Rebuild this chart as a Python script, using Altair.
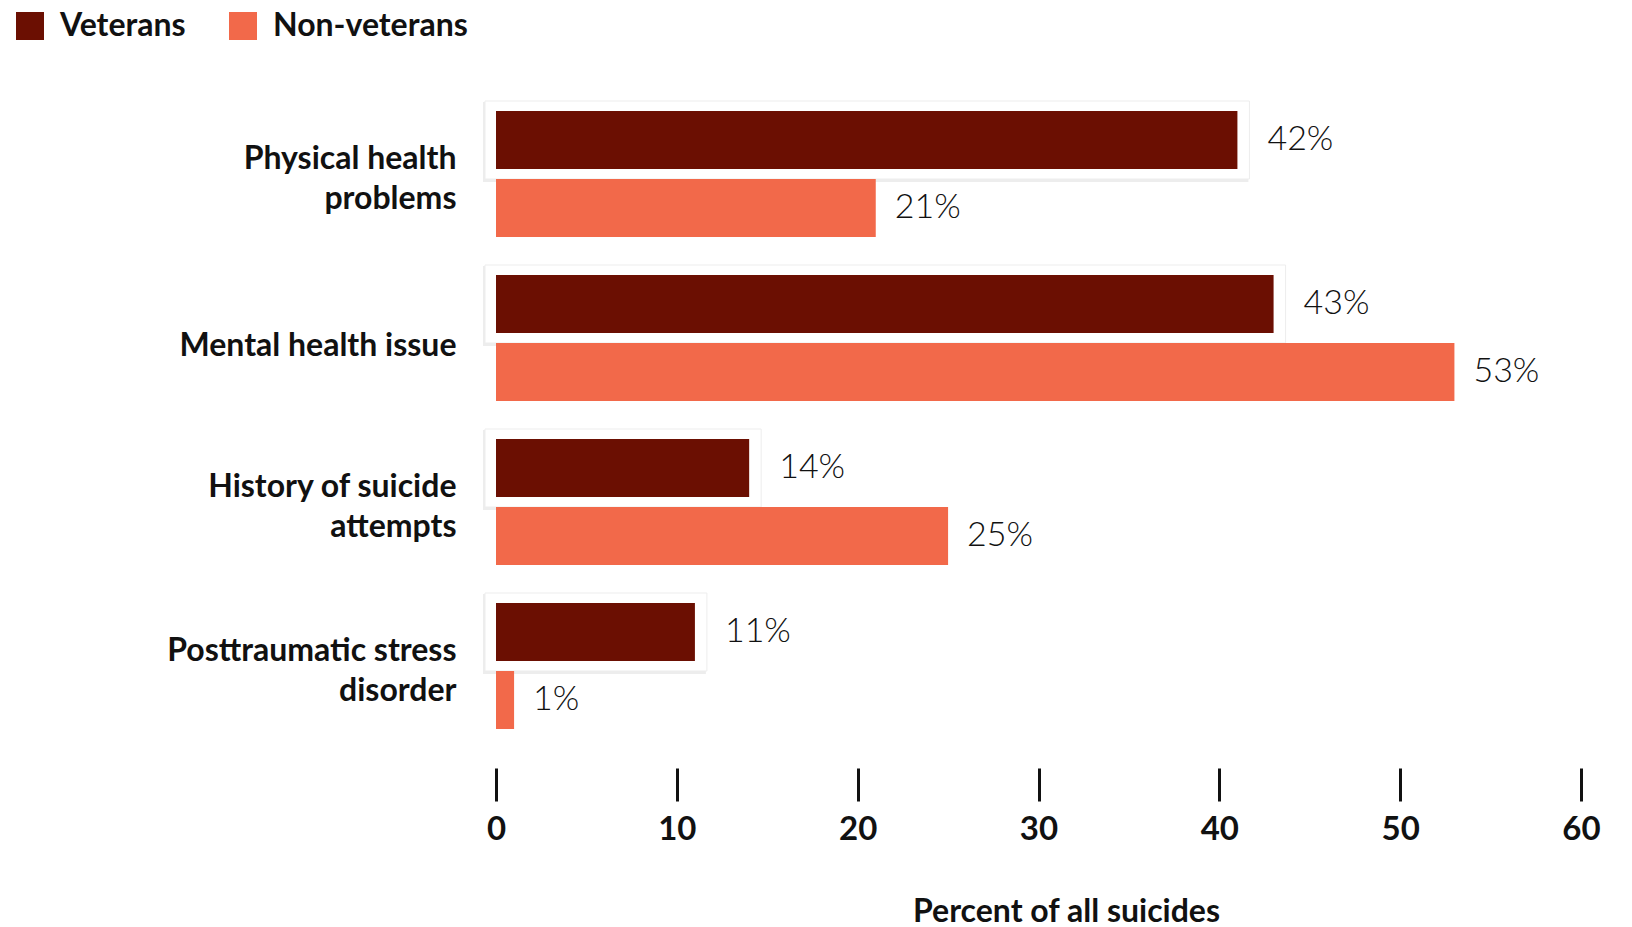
import json
import altair as alt
import pandas as pd

categories = ["Physical health problems", "Mental health issue",
              "History of suicide attempts", "Posttraumatic stress disorder"]
label_lines = [["Physical health", "problems"], ["Mental health issue"],
               ["History of suicide", "attempts"], ["Posttraumatic stress", "disorder"]]
veterans = [41, 43, 14, 11]            # bar lengths as drawn
veteran_labels = ["42%", "43%", "14%", "11%"]
non_veterans = [21, 53, 25, 1]
non_veteran_labels = ["21%", "53%", "25%", "1%"]
groups = ["Veterans", "Non-veterans"]
colors = ["#6B0F02", "#F2694A"]
x_ticks = [0, 10, 20, 30, 40, 50, 60]
x_title = "Percent of all suicides"

rows = []
for c, v, vl, n, nl in zip(categories, veterans, veteran_labels, non_veterans, non_veteran_labels):
    rows.append({"cat": c, "group": groups[0], "value": v, "label": vl})
    rows.append({"cat": c, "group": groups[1], "value": n, "label": nl})
df = pd.DataFrame(rows)

expr = "datum.label"
for c, lines in reversed(list(zip(categories, label_lines))):
    expr = f"datum.label == {json.dumps(c)} ? {json.dumps(lines)} : ({expr})"

FONT = "Lato"

x_enc = alt.X(
    "value:Q",
    scale=alt.Scale(domain=[0, 60], nice=False, zero=True),
    axis=alt.Axis(values=x_ticks, grid=False, domain=False, ticks=True,
                  tickSize=33, tickWidth=3, tickColor="#111", offset=20,
                  labelFont=FONT, labelFontSize=33, labelFontWeight="bold",
                  labelColor="#111", labelPadding=12, labelBaseline="top",
                  labelFlush=False,
                  title=x_title, titleFont=FONT, titleFontSize=32,
                  titleFontWeight="bold", titleColor="#111", titlePadding=50,
                  titleX=570, titleAlign="center"),
)
y_enc = alt.Y(
    "cat:N", sort=categories,
    scale=alt.Scale(paddingInner=0, paddingOuter=0),
    axis=alt.Axis(title=None, domain=False, ticks=False, grid=False,
                  labelExpr=expr, labelFont=FONT, labelFontSize=32,
                  labelFontWeight="bold", labelColor="#111", labelAlign="right",
                  labelPadding=40, labelLineHeight=40, labelLimit=400,
                  labelOffset={"condition": {"test": f"datum.value == {json.dumps(categories[1])}",
                                             "value": 8},
                               "value": -15}),
)
color_enc = alt.Color(
    "group:N",
    scale=alt.Scale(domain=groups, range=colors),
    legend=alt.Legend(title=None, orient="none", legendX=-482, legendY=-82,
                      direction="horizontal", symbolType="square",
                      symbolSize=784, symbolStrokeWidth=0, symbolOpacity=1,
                      labelFont=FONT, labelFontSize=32, labelFontWeight="bold",
                      labelColor="#111", labelOffset=14, columnPadding=41,
                      labelLimit=400, padding=0),
)

base = alt.Chart(df)
vet = base.transform_filter(alt.datum.group == groups[0])
non = base.transform_filter(alt.datum.group == groups[1])

shadow = vet.mark_bar(height=80, yOffset=-32, xOffset=11, x2Offset=-13,
                      color="#000000", opacity=0.07).encode(
    x=x_enc, x2=alt.datum(0), y=y_enc)
box = vet.mark_bar(height=78, yOffset=-34, xOffset=12, x2Offset=-11,
                   color="#ffffff", stroke="#ededed", strokeWidth=1).encode(
    x=x_enc, x2=alt.datum(0), y=y_enc)
vet_bars = vet.mark_bar(height=58, yOffset=-34).encode(
    x=x_enc, x2=alt.datum(0), y=y_enc, color=color_enc)
non_bars = non.mark_bar(height=58, yOffset=34).encode(
    x=x_enc, x2=alt.datum(0), y=y_enc, color=color_enc)
vet_text = vet.mark_text(align="left", baseline="middle", dx=30, dy=-34,
                         font=FONT, fontSize=34, fontWeight=300,
                         color="#111111").encode(x=x_enc, y=y_enc, text="label:N")
non_text = non.mark_text(align="left", baseline="middle", dx=19, dy=34,
                         font=FONT, fontSize=34, fontWeight=300,
                         color="#111111").encode(x=x_enc, y=y_enc, text="label:N")

chart = alt.layer(shadow, box, vet_bars, non_bars, vet_text, non_text).properties(
    width=1085, height=656,
    padding={"left": 496, "top": 92, "right": 51, "bottom": 179},
    autosize="none", background="#ffffff",
).configure_view(stroke=None)

chart.save("out.html", embed_options={"renderer": "svg", "actions": False})
